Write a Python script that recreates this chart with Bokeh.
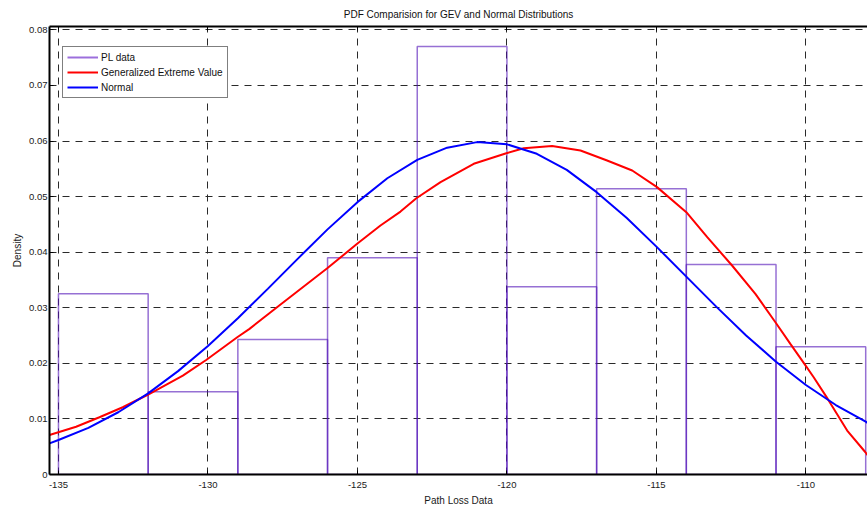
from bokeh.plotting import figure
from bokeh.models import Range1d, FixedTicker, LinearAxis, Legend, LegendItem, ColumnDataSource
from bokeh.embed import file_html
from bokeh.resources import INLINE

# ---- data ----
bin_left = [-135, -132, -129, -126, -123, -120, -117, -114, -111]
bin_right = [-132, -129, -126, -123, -120, -117, -114, -111, -108]
density = [0.0325, 0.0149, 0.0243, 0.0390, 0.0770, 0.0338, 0.0514, 0.0378, 0.0230]

gev_x = [-135.3, -134.41, -133.63, -132.85, -132.03, -130.84, -130.06, -129.02, -128.61,
         -127.69, -126.01, -125.01, -124.23, -123.56, -123.03, -122.22, -121.11, -120.02,
         -119.44, -118.49, -117.54, -116.65, -115.81, -114.98, -114.0, -113.3, -112.47,
         -111.69, -111.02, -110.52, -110.05, -109.74, -109.27, -108.62, -108.01, -107.94]
gev_y = [0.0071, 0.0086, 0.0103, 0.0121, 0.0143, 0.0178, 0.0206, 0.0247, 0.0262,
         0.0301, 0.0371, 0.0415, 0.0448, 0.0473, 0.0497, 0.0526, 0.0559, 0.0578,
         0.0587, 0.0591, 0.0583, 0.0565, 0.0547, 0.0517, 0.0472, 0.0427, 0.0376,
         0.0325, 0.0274, 0.0235, 0.0199, 0.0175, 0.0136, 0.0079, 0.0040, 0.0035]

normal_x = [-135.3, -135, -134, -133, -132, -131, -130, -129, -128, -127, -126, -125,
            -124, -123, -122, -121, -120, -119, -118, -117, -116, -115, -114, -113,
            -112, -111, -110, -109, -108, -107.94]
normal_y = [0.0056, 0.0062, 0.0084, 0.0112, 0.0146, 0.0186, 0.0231, 0.0281, 0.0334,
            0.0388, 0.0441, 0.0490, 0.0533, 0.0566, 0.0588, 0.0598, 0.0594, 0.0577,
            0.0548, 0.0508, 0.0462, 0.0410, 0.0356, 0.0302, 0.0250, 0.0203, 0.0161,
            0.0125, 0.0095, 0.0093]

x_ticks = [-135, -130, -125, -120, -115, -110]
x_tick_labels = ["-135", "-130", "-125", "-120", "-115", "-110"]
y_ticks = [0, 0.01, 0.02, 0.03, 0.04, 0.05, 0.06, 0.07, 0.08]
y_tick_labels = ["0", "0.01", "0.02", "0.03", "0.04", "0.05", "0.06", "0.07", "0.08"]

FONT = "Liberation Sans"

p = figure(width=867, height=508, output_backend="svg", toolbar_location=None,
           x_range=Range1d(-135.3, -107.94), y_range=Range1d(0, 0.0806),
           min_border_left=49, min_border_right=0, min_border_top=26, min_border_bottom=34,
           title="PDF Comparision for GEV and Normal Distributions",
           x_axis_label="Path Loss Data", y_axis_label="Density")
p.outline_line_color = None
p.background_fill_color = "white"
p.border_fill_color = "white"

p.title.align = "center"
p.title.text_font = FONT
p.title.text_font_size = "10px"
p.title.text_font_style = "normal"
p.title.text_color = "#111111"
p.title.standoff = 13

# bars
src = ColumnDataSource(dict(left=bin_left, right=bin_right, top=density, bottom=[0] * len(density)))
p.quad(left="left", right="right", top="top", bottom="bottom", source=src,
       fill_color=None, line_color="#5010b8", line_alpha=0.6, line_width=1.5)

gev = p.line(gev_x, gev_y, line_color="#ff0000", line_width=2)
nor = p.line(normal_x, normal_y, line_color="#0000ff", line_width=2)
# legend-only line for the histogram (kept outside the visible range)
pl_leg = p.line([-200, -199], [-1, -1], line_color="#9c6fdc", line_width=2)

# axes
for ax in (p.xaxis[0], p.yaxis[0]):
    ax.axis_line_width = 2
    ax.axis_line_color = "black"
    ax.major_tick_in = 4
    ax.major_tick_out = 0
    ax.minor_tick_line_color = None
    ax.major_tick_line_color = "black"
    ax.major_label_text_font = FONT
    ax.major_label_text_font_size = "9.5px"
    ax.major_label_text_color = "#1a1a1a"
    ax.axis_label_text_font = FONT
    ax.axis_label_text_font_size = "10px"
    ax.axis_label_text_font_style = "normal"
    ax.axis_label_text_color = "#1a1a1a"

p.xaxis[0].ticker = FixedTicker(ticks=x_ticks)
p.xaxis[0].major_label_overrides = {t: s for t, s in zip(x_ticks, x_tick_labels)}
p.xaxis[0].major_label_standoff = 7
p.xaxis[0].axis_label_standoff = 4
p.yaxis[0].ticker = FixedTicker(ticks=y_ticks)
p.yaxis[0].major_label_overrides = {t: s for t, s in zip(y_ticks, y_tick_labels)}
p.yaxis[0].major_label_standoff = 2
p.yaxis[0].axis_label_standoff = 3

# top spine with inward tick marks only (minor ticks used so no labels are drawn)
top_ax = LinearAxis(ticker=FixedTicker(ticks=[], minor_ticks=x_ticks),
                    axis_line_width=2, axis_line_color="black",
                    major_tick_in=0, major_tick_out=0,
                    minor_tick_in=4, minor_tick_out=0, minor_tick_line_color="black",
                    major_label_standoff=0)
p.add_layout(top_ax, "above")

# grid
for g in (p.xgrid[0], p.ygrid[0]):
    g.grid_line_color = "#2a2a2a"
    g.grid_line_dash = "7 6"
    g.grid_line_width = 1
p.xgrid[0].ticker = FixedTicker(ticks=x_ticks)
p.ygrid[0].ticker = FixedTicker(ticks=y_ticks)

legend = Legend(items=[LegendItem(label="PL data", renderers=[pl_leg]),
                       LegendItem(label="Generalized Extreme Value", renderers=[gev]),
                       LegendItem(label="Normal", renderers=[nor])],
                location=(13, 376))
legend.border_line_color = "black"
legend.border_line_width = 1
legend.background_fill_color = "white"
legend.background_fill_alpha = 1
legend.label_text_font = FONT
legend.label_text_font_size = "10px"
legend.label_text_color = "#111111"
legend.glyph_width = 31
legend.glyph_height = 12
legend.label_height = 12
legend.label_standoff = 3
legend.spacing = 3
legend.padding = 4
legend.margin = 0
p.add_layout(legend, "center")

open("out.html", "w").write(file_html(p, INLINE))
